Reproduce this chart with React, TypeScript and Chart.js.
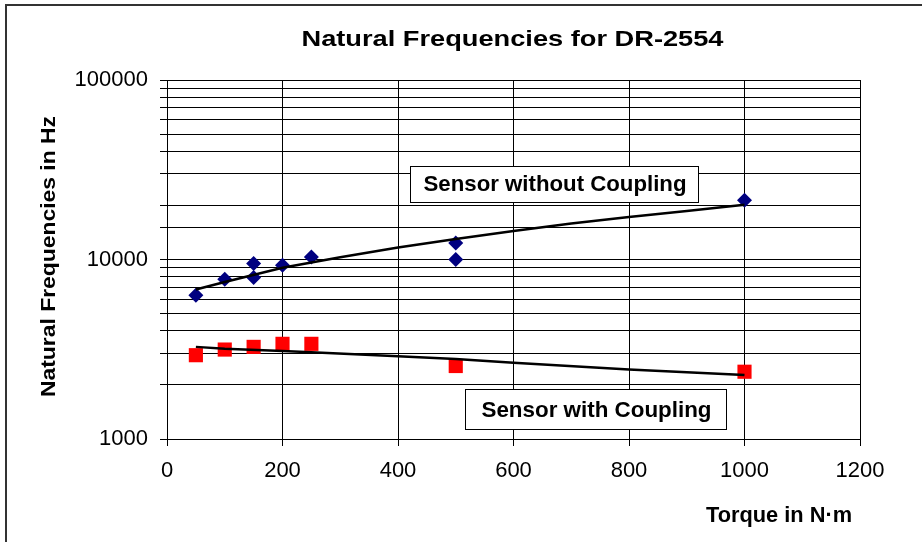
import React, { useEffect, useRef } from "react";
import { Chart, registerables } from "chart.js";

Chart.register(...registerables);

// ---- Texts ----
const chartTitle = "Natural Frequencies for DR-2554";
const xAxisTitle = "Torque in N·m";
const yAxisTitle = "Natural Frequencies in Hz";
const labelWithout = "Sensor without Coupling";
const labelWith = "Sensor with Coupling";

// ---- Axes ----
const xMin = 0;
const xMax = 1200;
const xStep = 200;
const yMin = 1000;
const yMax = 100000;
const yLabelValues = [1000, 10000, 100000];

// ---- Sensor without coupling (blue diamonds) ----
const torqueWithout = [50, 100, 150, 150, 200, 250, 500, 500, 1000];
const freqWithout = [6325, 7770, 9500, 7940, 9290, 10330, 12360, 10000, 21360];

// ---- Sensor with coupling (red squares) ----
const torqueWith = [50, 100, 150, 200, 250, 500, 1000];
const freqWith = [2930, 3150, 3260, 3390, 3390, 2550, 2370];

// ---- Trend lines ----
const trendWithoutX = [50, 100, 200, 300, 400, 500, 600, 700, 800, 900, 1000];
const trendWithoutY = [6800, 7500, 9000, 10300, 11650, 13000, 14400, 15850, 17250, 18650, 20200];
const trendWithX = [50, 100, 200, 250, 400, 500, 600, 800, 1000];
const trendWithY = [3260, 3180, 3090, 3040, 2890, 2790, 2660, 2440, 2270];

const FONT = '"Liberation Sans", Arial, Helvetica, sans-serif';

const toPoints = (xs: number[], ys: number[]) => xs.map((x, i) => ({ x, y: ys[i] }));

function drawFitted(
  ctx: CanvasRenderingContext2D,
  text: string,
  cx: number,
  baseline: number,
  targetWidth: number,
  font: string
) {
  ctx.save();
  ctx.font = font;
  ctx.fillStyle = "#000";
  const w = ctx.measureText(text).width;
  const s = targetWidth / w;
  ctx.translate(cx, baseline);
  ctx.scale(s, 1);
  ctx.textAlign = "center";
  ctx.textBaseline = "alphabetic";
  ctx.fillText(text, 0, 0);
  ctx.restore();
}

const decorPlugin = {
  id: "decor",
  afterDraw(chart: any) {
    const ctx: CanvasRenderingContext2D = chart.ctx;
    ctx.save();
    // outer frame
    ctx.strokeStyle = "#333";
    ctx.lineWidth = 2;
    ctx.strokeRect(6, 5, 940, 560);

    const bold = `bold 22px ${FONT}`;
    // title
    drawFitted(ctx, chartTitle, 512.5, 45.5, 422, bold);
    // x axis title
    drawFitted(ctx, xAxisTitle, 779, 521.5, 146, bold);
    // y axis title (rotated)
    ctx.save();
    ctx.translate(55, 256.5);
    ctx.rotate(-Math.PI / 2);
    drawFitted(ctx, yAxisTitle, 0, 0, 281, `bold 21px ${FONT}`);
    ctx.restore();

    // annotation boxes
    ctx.fillStyle = "#fff";
    ctx.strokeStyle = "#000";
    ctx.lineWidth = 1;
    ctx.fillRect(410.5, 166.5, 288, 36);
    ctx.strokeRect(410.5, 166.5, 288, 36);
    drawFitted(ctx, labelWithout, 555, 191, 263, bold);

    ctx.fillStyle = "#fff";
    ctx.fillRect(465.5, 389.5, 261, 40);
    ctx.strokeRect(465.5, 389.5, 261, 40);
    drawFitted(ctx, labelWith, 596.5, 416.5, 230, bold);
    ctx.restore();
  },
};

export default function App() {
  const canvasRef = useRef<HTMLCanvasElement | null>(null);

  useEffect(() => {
    document.body.style.margin = "0";
    const canvas = canvasRef.current;
    if (!canvas) return;
    const chart = new Chart(canvas, {
      type: "scatter",
      data: {
        datasets: [
          {
            label: "Trend without coupling",
            data: toPoints(trendWithoutX, trendWithoutY),
            showLine: true,
            borderColor: "#000",
            borderWidth: 2.5,
            pointRadius: 0,
            tension: 0,
            order: 0,
          },
          {
            label: "Trend with coupling",
            data: toPoints(trendWithX, trendWithY),
            showLine: true,
            borderColor: "#000",
            borderWidth: 2.5,
            pointRadius: 0,
            tension: 0,
            order: 0,
          },
          {
            label: labelWithout,
            data: toPoints(torqueWithout, freqWithout),
            pointStyle: "rectRot",
            pointRadius: 7.5,
            backgroundColor: "#000080",
            borderColor: "#000080",
            borderWidth: 0,
            order: 1,
          },
          {
            label: labelWith,
            data: toPoints(torqueWith, freqWith),
            pointStyle: "rect",
            pointRadius: 10,
            backgroundColor: "#ff0000",
            borderColor: "#ff0000",
            borderWidth: 0,
            order: 1,
          },
        ],
      },
      options: {
        responsive: false,
        animation: false,
        devicePixelRatio: 1,
        layout: { padding: { left: 0, top: 80, right: 62, bottom: 0 } },
        plugins: {
          legend: { display: false },
          title: { display: false },
          tooltip: { enabled: false },
        },
        scales: {
          x: {
            type: "linear",
            min: xMin,
            max: xMax,
            afterFit: (scale: any) => {
              scale.height = 103;
            },
            ticks: {
              stepSize: xStep,
              color: "#000",
              padding: 12,
              font: { family: FONT, size: 22 },
              maxRotation: 0,
              callback: (v: any) => String(v),
            },
            grid: { color: "#000", lineWidth: 1, tickLength: 7 },
            border: { color: "#000", width: 1 },
          },
          y: {
            type: "logarithmic",
            min: yMin,
            max: yMax,
            afterFit: (scale: any) => {
              scale.width = 167;
            },
            ticks: {
              autoSkip: false,
              color: "#000",
              padding: 12,
              font: { family: FONT, size: 22 },
              callback: (v: any) => (yLabelValues.includes(Number(v)) ? String(v) : ""),
            },
            grid: { color: "#000", lineWidth: 1, tickLength: 7 },
            border: { color: "#000", width: 1 },
          },
        },
      },
      plugins: [decorPlugin],
    } as any);
    return () => chart.destroy();
  }, []);

  return (
    <div style={{ width: 922, height: 542, background: "#fff" }}>
      <canvas ref={canvasRef} width={922} height={542} />
    </div>
  );
}
